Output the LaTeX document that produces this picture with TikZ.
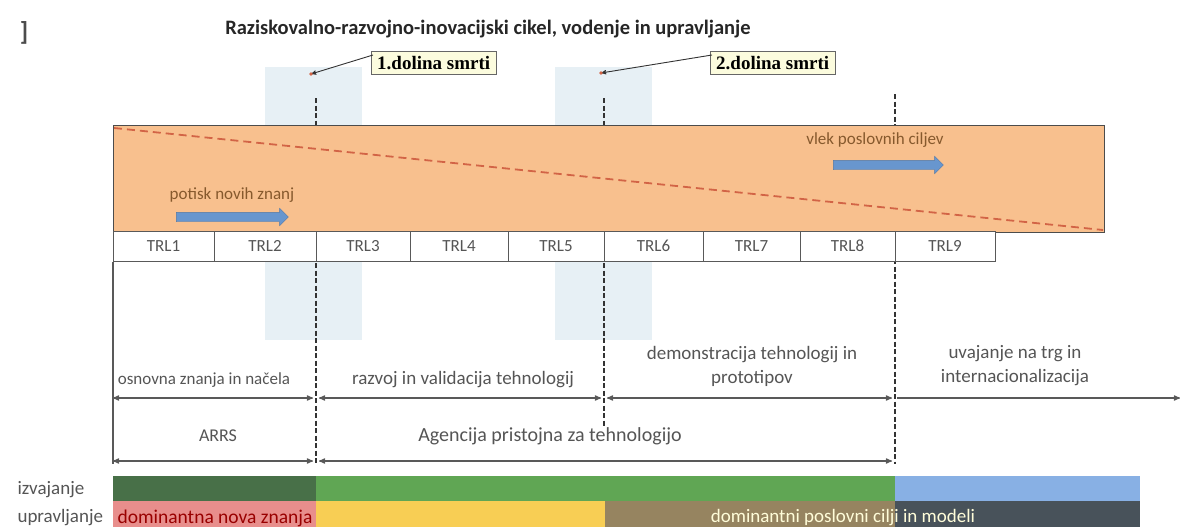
\documentclass[tikz,border=0pt]{standalone}
\usepackage{fontspec}
\setmainfont{Carlito}
\newfontfamily\dolinafont{Liberation Serif}
\usetikzlibrary{arrows, positioning, shapes.arrows}
\tikzset{
    %Define standard arrow tip
    >=stealth',
}
\definecolor{orangefill}{RGB}{248,192,142}
\definecolor{dashred}{RGB}{210,100,70}
\definecolor{colblue}{RGB}{231,240,245}
\definecolor{arrowblue}{RGB}{104,150,206}
\definecolor{txtgray}{RGB}{85,85,85}
\definecolor{darkgreen}{RGB}{72,112,72}
\definecolor{midgreen}{RGB}{96,166,84}
\definecolor{skyblue}{RGB}{136,176,228}
\definecolor{pinkbar}{RGB}{232,142,140}
\definecolor{yellowbar}{RGB}{248,206,84}
\definecolor{brownbar}{RGB}{150,132,96}
\definecolor{slatebar}{RGB}{72,82,90}
\definecolor{notefill}{RGB}{252,252,222}

\begin{document}
\begin{tikzpicture}[x=1pt, y=-1pt, font=\fontsize{17}{20}\selectfont]
	\tikzset{
	  trl/.style={draw=gray!70!black, fill=white,
	             line width=0.8pt,
	             minimum height=30pt, inner sep=0pt,
	             text=txtgray},
	  dolina/.style={draw=gray!80!black, fill=notefill,
	             font=\dolinafont\bfseries\fontsize{19}{22}\selectfont,
	             inner xsep=6pt, inner ysep=5pt},
	  push/.style={single arrow, fill=arrowblue, draw=arrowblue!80!black,
	             inner xsep=0pt, inner ysep=4.5pt,
	             single arrow head extend=4pt, line width=0.4pt},
	  valley/.style={draw=black!80, line width=1.3pt, dash pattern=on 5pt off 2.5pt},
	  dim/.style={draw=gray!70!black, line width=1.2pt},
	  lbl/.style={text=txtgray, align=center},
	  bar/.style={inner sep=0pt, outer sep=0pt}
	}
	\useasboundingbox (0,0) rectangle (1180,527);

	% light blue columns behind the valleys
	\fill[colblue] (265,67) rectangle (362,125);
	\fill[colblue] (265,262) rectangle (362,340);
	\fill[colblue] (555,67) rectangle (652,125);
	\fill[colblue] (555,262) rectangle (652,340);

	% valley lines
	\coordinate (v1top) at (316,98);
	\coordinate (v1bot) at (316,464);
	\coordinate (v2top) at (604,98);
	\coordinate (v2bot) at (604,426);
	\coordinate (v3top) at (895,94);
	\coordinate (v3bot) at (895,464);
	\draw[valley] (v1top) -- (v1bot);
	\draw[valley] (v2top) -- (v2bot);
	\draw[valley] (v3top) -- (v3bot);

	% main band
	\draw[fill=orangefill, draw=gray!60!black, line width=1pt] (113,125) rectangle (1104,232);
	\coordinate (pushstart) at (114,128);
	\coordinate (pullend) at (1103,230);
	\draw[dashred, line width=1.8pt, dash pattern=on 8pt off 5pt] (pushstart) -- (pullend);

	\node[text=brown!70!black] (pushtxt) at (232,195) {potisk novih znanj};
	\node[push, minimum height=112pt] (pusharrow) at (230,217) {};
	\node[text=brown!70!black] (pulltxt) at (875,140) {vlek poslovnih ciljev};
	\node[push, minimum height=110pt] (pullarrow) at (886,165) {};

	% TRL row
	\foreach \i/\l/\r in {1/113/214, 2/214/316, 3/316/410, 4/410/508, 5/508/604,
	                      6/604/703, 7/703/800, 8/800/895, 9/895/995}
	  \node[trl, minimum width=\r pt-\l pt] (trl\i) at ({(\l+\r)/2},246) {TRL\i};

	% title and marks
	\node[font=\bfseries\fontsize{20.5}{23}\selectfont, text=black!85] (title) at (488,29) {Raziskovalno-razvojno-inovacijski cikel, vodenje in upravljanje};
	\node[text=gray!60!black, font=\bfseries\fontsize{26}{28}\selectfont] (bracket) at (24,33) {]};

	\node[dolina, anchor=north west] (dol1) at (371,51) {1.dolina smrti};
	\node[dolina, anchor=north west] (dol2) at (710,51) {2.dolina smrti};
	\coordinate (mark1) at (311,74);
	\coordinate (mark2) at (601,73);
	\draw[->, black!80, line width=0.9pt] (dol1.north west) ++(2,4) -- (mark1);
	\draw[->, black!80, line width=0.9pt] (dol2.north west) ++(2,4) -- (mark2);
	\fill[dashred] (mark1) circle (1.8pt);
	\fill[dashred] (mark2) circle (1.8pt);

	% dimension lines
	\coordinate (left) at (113,262);
	\coordinate (leftbot) at (113,464);
	\draw[dim] (left) -- (leftbot);

	\coordinate (a0) at (113,398);
	\coordinate (a1) at (313,398);
	\coordinate (a2) at (319,398);
	\coordinate (a3) at (601,398);
	\coordinate (a4) at (607,398);
	\coordinate (a5) at (892,398);
	\coordinate (a6) at (897,398);
	\coordinate (a7) at (1180,398);
	\draw[dim, <->] (a0) -- (a1);
	\draw[dim, <->] (a2) -- (a3);
	\draw[dim, <->] (a4) -- (a5);
	\draw[dim, ->] (a6) -- (a7);

	\coordinate (b0) at (113,461);
	\coordinate (b1) at (313,461);
	\coordinate (b2) at (319,461);
	\coordinate (b3) at (892,461);
	\draw[dim, <->] (b0) -- (b1);
	\draw[dim, <->] (b2) -- (b3);

	\node[lbl, font=\fontsize{17}{20}\selectfont] (osnovna) at (204,380) {osnovna znanja in načela};
	\node[lbl, font=\fontsize{19}{22}\selectfont] (razvoj) at (463,380) {razvoj in validacija tehnologij};
	\node[lbl, font=\fontsize{19}{24}\selectfont] (demo) at (752,366) {demonstracija tehnologij in\\prototipov};
	\node[lbl, font=\fontsize{19}{24}\selectfont] (uvajanje) at (1015,366) {uvajanje na trg in\\internacionalizacija};
	\node[lbl, font=\fontsize{18}{20}\selectfont] (arrs) at (218,436) {ARRS};
	\node[lbl, font=\fontsize{20}{22}\selectfont] (agencija) at (550,436) {Agencija pristojna za tehnologijo};

	% bottom bars
	\fill[darkgreen] (113,476) rectangle (316,501);
	\fill[midgreen] (316,476) rectangle (895,501);
	\fill[skyblue] (895,476) rectangle (1140,501);
	\fill[pinkbar] (113,501) rectangle (316,527);
	\fill[yellowbar] (316,501) rectangle (605,527);
	\fill[brownbar] (605,501) rectangle (895,527);
	\fill[slatebar] (895,501) rectangle (1140,527);

	\node[text=txtgray, anchor=west, font=\fontsize{19}{20}\selectfont] (izvajanje) at (14,490) {izvajanje};
	\node[text=txtgray, anchor=west, font=\fontsize{19}{20}\selectfont] (upravljanje) at (14,518) {upravljanje};
	\node[text=red!60!black, anchor=west, font=\fontsize{19.5}{20}\selectfont] (dominantna) at (114,518) {dominantna nova znanja};
	\node[text=white!85!yellow, font=\fontsize{19}{20}\selectfont] (poslovni) at (843,518) {dominantni poslovni cilji in modeli};
\end{tikzpicture}
\end{document}
